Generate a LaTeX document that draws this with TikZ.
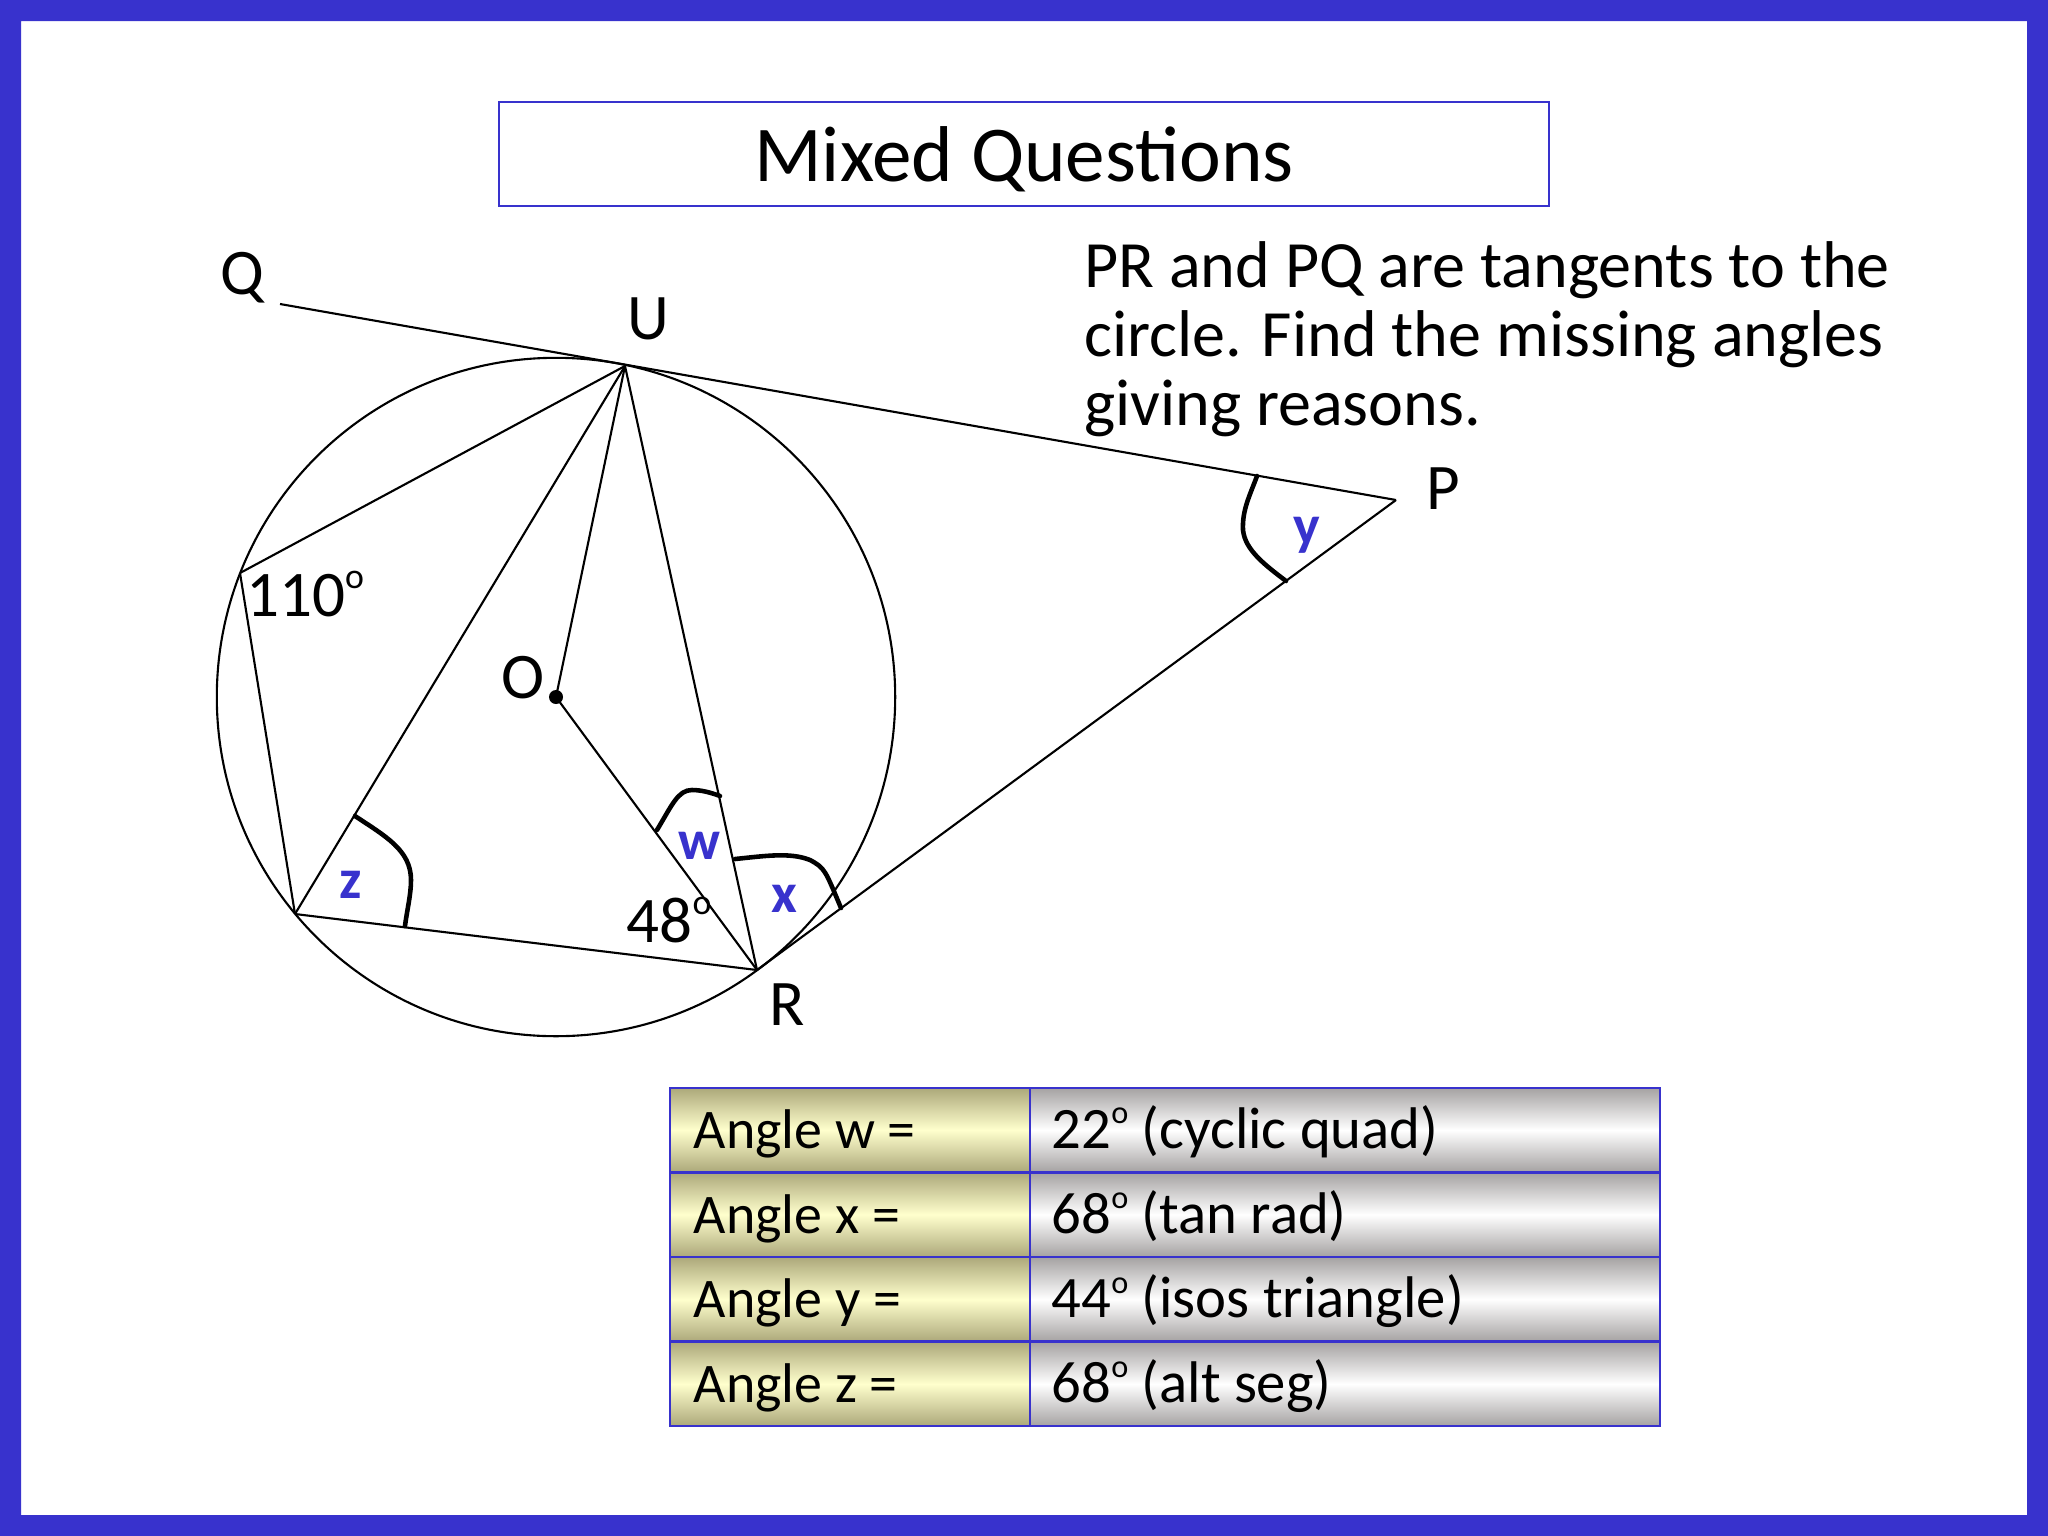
\documentclass[tikz,border=0pt]{standalone}
\usepackage{fontspec}
\setmainfont{Carlito}
\definecolor{frameblue}{RGB}{56,50,205}
\definecolor{khakidark}{RGB}{172,168,122}
\definecolor{khakilight}{RGB}{255,255,205}
\definecolor{greydark}{RGB}{165,162,162}
\newcommand{\degmark}{\raisebox{.42em}{\scalebox{.55}{o}}}
\tikzset{
  ptlabel/.style={font=\fontsize{18.5}{20}\selectfont,inner sep=0pt},
  anglelabel/.style={font=\fontsize{16}{19}\selectfont\bfseries,inner sep=0pt,text=frameblue},
  anglemark/.style={line width=1.3pt,line cap=round},
  leftcell/.style={draw=frameblue,line width=0.7pt,top color=khakidark,bottom color=khakidark,middle color=khakilight,minimum height=0.845cm,text width=3.12cm,text height=0.42cm,text depth=0.05cm,inner xsep=0.24cm,inner ysep=0pt,align=flush left,font=\fontsize{15.9}{18}\selectfont},
  rightcell/.style={draw=frameblue,line width=0.7pt,top color=greydark,bottom color=greydark,middle color=white,minimum height=0.845cm,text width=5.86cm,text height=0.42cm,text depth=0.05cm,inner xsep=0.22cm,inner ysep=0pt,align=flush left,font=\fontsize{16.7}{18}\selectfont}
}
\begin{document}
\begin{tikzpicture}[x=0.01cm,y=-0.01cm,line width=0.6pt,node distance=0.846cm]
\useasboundingbox (0,0) rectangle (2048,1536);
\fill[frameblue,even odd rule] (0,0) rectangle (2048,1536) (21,21) rectangle (2027,1515);

\node[draw=frameblue,minimum width=10.5cm,minimum height=1.04cm,text depth=0cm,font=\fontsize{22.5}{25}\selectfont] (title) at (1024,154) {Mixed Questions};
\node[anchor=north west,inner sep=0pt,align=left,font=\fontsize{18.8}{19.6}\selectfont] (task) at (1083,241) {PR and PQ are tangents to the\\circle. Find the missing angles\\giving reasons.};

\node[circle,fill=black,inner sep=0pt,minimum size=0.14cm] (O) at (556,697) {};
\coordinate (q) at (280,304);
\coordinate (u) at (625,366);
\coordinate (p) at (1396,500);
\coordinate (a) at (240,573);
\coordinate (z) at (295,914);
\coordinate (r) at (757,970);

\draw (O.center) circle [radius=3.39cm];
\path[-] (q) edge (p)
         (p) edge (r)
         (u) edge (a)
             edge (z)
             edge (O.center)
             edge (r)
         (a) edge (z)
         (z) edge (r)
         (O.center) edge (r);

\draw[anglemark] (355,816) .. controls (385,836) and (411,850) .. (411,880) .. controls (411,895) and (407,910) .. (405,926);
\draw[anglemark] (657,830) .. controls (672,805) and (678,790) .. (692,790) .. controls (702,790) and (712,793) .. (720,796);
\draw[anglemark] (735,859) .. controls (765,856) and (790,852) .. (810,860) .. controls (825,868) and (825,870) .. (841,908);
\draw[anglemark] (1257,476) .. controls (1250,495) and (1242,510) .. (1243,530) .. controls (1245,550) and (1265,565) .. (1286,581);

\node[ptlabel] (Q) at (242,278) {Q};
\node[ptlabel] (U) at (648,319) {U};
\node[ptlabel] (P) at (1443,489) {P};
\node[ptlabel] (R) at (787,1005) {R};
\node[ptlabel] (Olabel) at (523,678) {O};
\node[ptlabel] (a110) at (305,594) {110\degmark};
\node[ptlabel] (a48) at (669,920) {48\degmark};

\node[anglelabel] (w) at (699,846) {w};
\node[anglelabel] (x) at (784,899) {x};
\node[anglelabel] (y) at (1307,535) {y};
\node[anglelabel] (zz) at (351,885) {z};

\node[leftcell] (1) at (850,1130) {Angle w =};
\node[leftcell] (2) [below of=1] {Angle x =};
\node[leftcell] (3) [below of=2] {Angle y =};
\node[leftcell] (4) [below of=3] {Angle z =};
\node[rightcell] (5) at (1345,1130) {22\degmark{} (cyclic quad)};
\node[rightcell] (6) [below of=5] {68\degmark{} (tan rad)};
\node[rightcell] (7) [below of=6] {44\degmark{} (isos triangle)};
\node[rightcell] (8) [below of=7] {68\degmark{} (alt seg)};
\end{tikzpicture}
\end{document}
